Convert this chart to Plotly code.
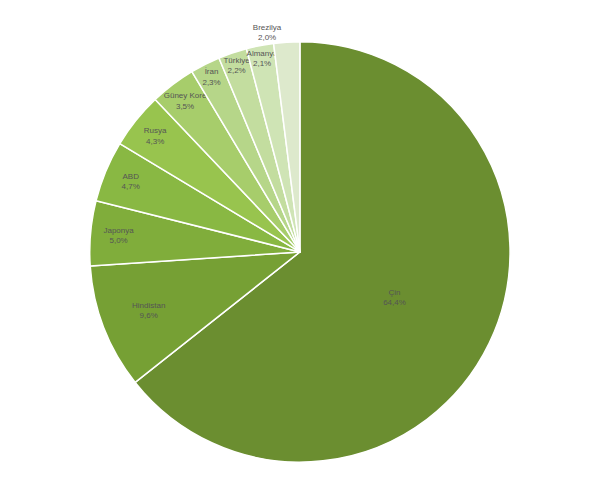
import plotly.graph_objects as go

countries = ["Çin", "Hindistan", "Japonya", "ABD", "Rusya", "Güney Kore", "İran", "Türkiye", "Almanya", "Brezilya"]
shares = [64.4, 9.6, 5.0, 4.7, 4.3, 3.5, 2.3, 2.2, 2.1, 2.0]
colors = ["#6b8e30", "#76a034", "#80ad3b", "#89b843", "#98c44e", "#a7cd6b", "#b6d689",
          "#c3dd9f", "#cfe4b5", "#dde9cc"]

labels_text = [f"{c}<br>{v:.1f}%".replace(".", ",") for c, v in zip(countries, shares)]
positions = ["inside"] * 9 + ["outside"]

fig = go.Figure(go.Pie(
    labels=countries,
    values=shares,
    text=labels_text,
    textinfo="text",
    textposition=positions,
    insidetextorientation="horizontal",
    sort=False,
    direction="clockwise",
    rotation=0,
    marker=dict(colors=colors, line=dict(color="white", width=1.5)),
    textfont=dict(size=8, color="#555555", family="Liberation Sans"),
    outsidetextfont=dict(size=8, color="#555555", family="Liberation Sans"),
    domain=dict(x=[0, 0.973], y=[0.099, 0.933]),
    showlegend=False,
    automargin=False,
))

fig.update_layout(
    width=600, height=504,
    margin=dict(l=0, r=0, t=0, b=0),
    paper_bgcolor="white",
    uniformtext=dict(minsize=8, mode="show"),
)

fig.write_html("out.html")
